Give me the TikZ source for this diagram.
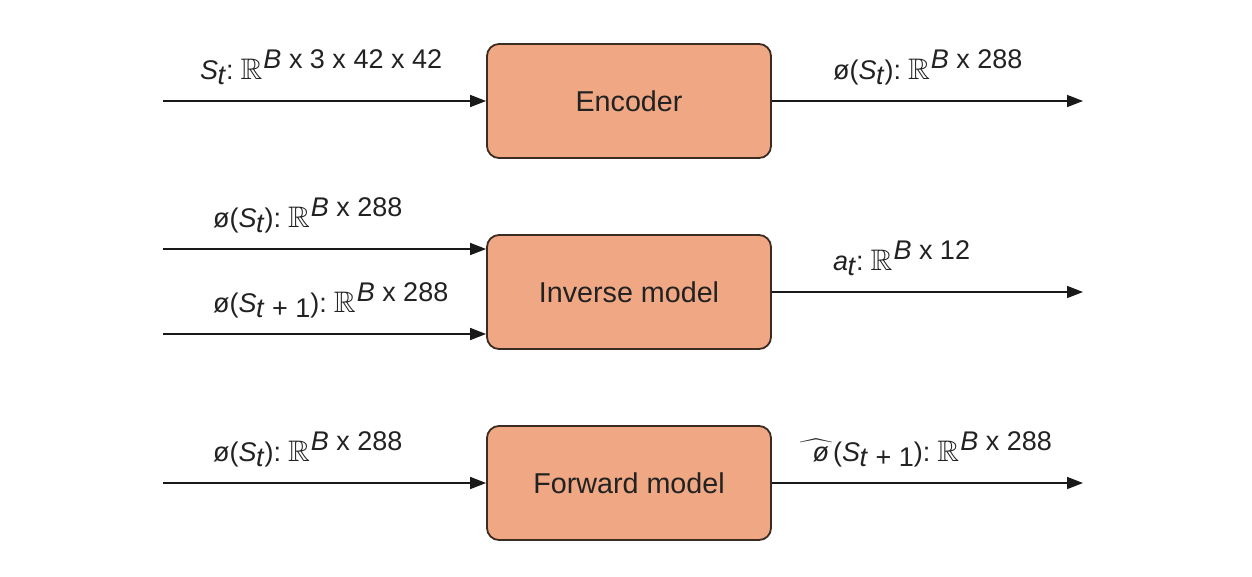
\documentclass[tikz,border=0pt]{standalone}
\usepackage{amssymb}
\usepackage{fontspec}
\setmainfont{Liberation Sans}
\usetikzlibrary{arrows.meta}
\definecolor{boxfill}{HTML}{EFA784}
\definecolor{boxline}{HTML}{3B2B22}
\definecolor{txt}{HTML}{222222}
\newcommand\Lsub[1]{\kern-0.5pt\raisebox{-5pt}{#1}}
\newcommand\Lsup[1]{\kern1pt\raisebox{11pt}{#1}}
\newcommand\RR{:\hspace{7pt}\scalebox{1.12}[1.1]{$\mathbb{R}$}}
\newcommand\phihat{{\fontsize{22}{26}\selectfont$\widehat{\makebox[33pt][r]{\fontsize{27}{32}\selectfont\textit{ø}\kern4pt}}$}}
\begin{document}
\begin{tikzpicture}[x=1pt,y=-1pt,
  blk/.style={draw=boxline, line width=1.8pt, fill=boxfill, rounded corners=12pt,
    minimum width=284pt, minimum height=114pt, inner sep=0pt,
    font=\fontsize{28.7}{34}\selectfont, text=txt},
  lbl/.style={anchor=base west, inner sep=0pt, font=\fontsize{27}{32}\selectfont, text=txt},
  flow/.style={line width=1.6pt, draw=black!90, -{Triangle[length=16pt,width=12pt]}}]
\useasboundingbox (0,0) rectangle (1252,576);

\node[blk] (enc) at (629,101) {Encoder};
\node[blk] (inv) at (629,292) {Inverse model};
\node[blk] (fwd) at (629,483) {Forward model};

\coordinate (encin) at (163,101);
\coordinate (encout) at (1083,101);
\coordinate (invinA) at (163,249);
\coordinate (invinB) at (163,334);
\coordinate (invout) at (1083,292);
\coordinate (fwdin) at (163,483);
\coordinate (fwdout) at (1083,483);

\draw[flow] (encin) -- (enc.west);
\draw[flow] (enc.east) -- (encout);
\draw[flow] (invinA) -- (invinA -| inv.west);
\draw[flow] (invinB) -- (invinB -| inv.west);
\draw[flow] (inv.east) -- (invout);
\draw[flow] (fwdin) -- (fwd.west);
\draw[flow] (fwd.east) -- (fwdout);

\node[lbl] (l1) at (200,79) {\textit{S}\Lsub{\textit{t}}\RR\Lsup{\textit{B} x 3 x 42 x 42}};
\node[lbl] (l2) at (833,79) {ø(\textit{S}\Lsub{\textit{t}})\RR\Lsup{\textit{B} x 288}};
\node[lbl] (l3) at (213,227) {ø(\textit{S}\Lsub{\textit{t}})\RR\Lsup{\textit{B} x 288}};
\node[lbl] (l4) at (213,312) {ø(\textit{S}\Lsub{\textit{t} + 1})\RR\Lsup{\textit{B} x 288}};
\node[lbl] (l5) at (833,270) {\textit{a}\Lsub{\textit{t}}\RR\Lsup{\textit{B} x 12}};
\node[lbl] (l6) at (213,461) {ø(\textit{S}\Lsub{\textit{t}})\RR\Lsup{\textit{B} x 288}};
\node[lbl] (l7) at (800,461) {\phihat(\textit{S}\Lsub{\textit{t} + 1})\RR\Lsup{\textit{B} x 288}};
\end{tikzpicture}
\end{document}
